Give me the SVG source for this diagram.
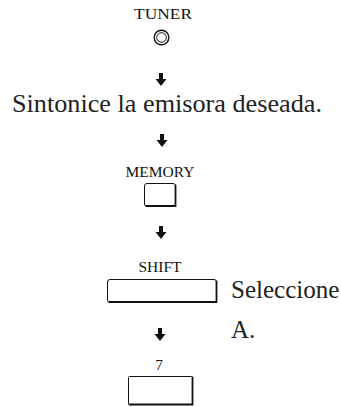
<svg xmlns="http://www.w3.org/2000/svg" width="341" height="407" viewBox="0 0 341 407">
<style>
.lbl{font-family:"Liberation Serif","Times New Roman",serif;font-size:15.5px;fill:#111;text-anchor:middle}
.big{font-family:"Liberation Serif","Times New Roman",serif;font-size:25px;fill:#222}
.btn{fill:#fff;stroke:#111;stroke-width:1}
.sh{fill:none;stroke:#111;stroke-width:1.8;stroke-linecap:round}
.arr{fill:#111}
</style>
<defs>
<path id="arrow" d="M-2,0 H2 V6 H5.5 L0,13 L-5.5,6 H-2 Z"/>
</defs>
<g id="tuner">
<text class="lbl" x="163" y="19" textLength="58" lengthAdjust="spacingAndGlyphs">TUNER</text>
<circle cx="161.5" cy="37.5" r="7.3" fill="none" stroke="#111" stroke-width="1.4"/>
<circle cx="161.5" cy="37.5" r="4.8" fill="none" stroke="#111" stroke-width="1"/>
</g>
<g id="step-tune">
<text class="big" x="12" y="112" textLength="310" lengthAdjust="spacingAndGlyphs">Sintonice la emisora deseada.</text>
</g>
<g id="memory">
<text class="lbl" x="160" y="177">MEMORY</text>
<rect class="btn" x="144.5" y="183.5" width="31" height="23" rx="2.5"/>
<path class="sh" d="M175.5,185.5 V206 H146.5"/>
</g>
<g id="shift">
<text class="lbl" x="160" y="272">SHIFT</text>
<rect class="btn" x="107.5" y="279.5" width="109" height="23" rx="2.5"/>
<path class="sh" d="M216.5,281.5 V302 H109.5"/>
<text class="big" x="231" y="298">Seleccione</text>
<text class="big" x="231" y="338">A.</text>
</g>
<g id="key7">
<text class="lbl" x="159" y="370">7</text>
<rect class="btn" x="128.5" y="376.5" width="64" height="28" rx="1"/>
<path class="sh" d="M192.5,377.5 V404.5 H129.5"/>
</g>
<g id="connectors">
<use href="#arrow" class="arr" x="161" y="73"/>
<use href="#arrow" class="arr" x="162" y="134"/>
<use href="#arrow" class="arr" x="161" y="226"/>
<use href="#arrow" class="arr" x="160" y="328"/>
</g>
</svg>
